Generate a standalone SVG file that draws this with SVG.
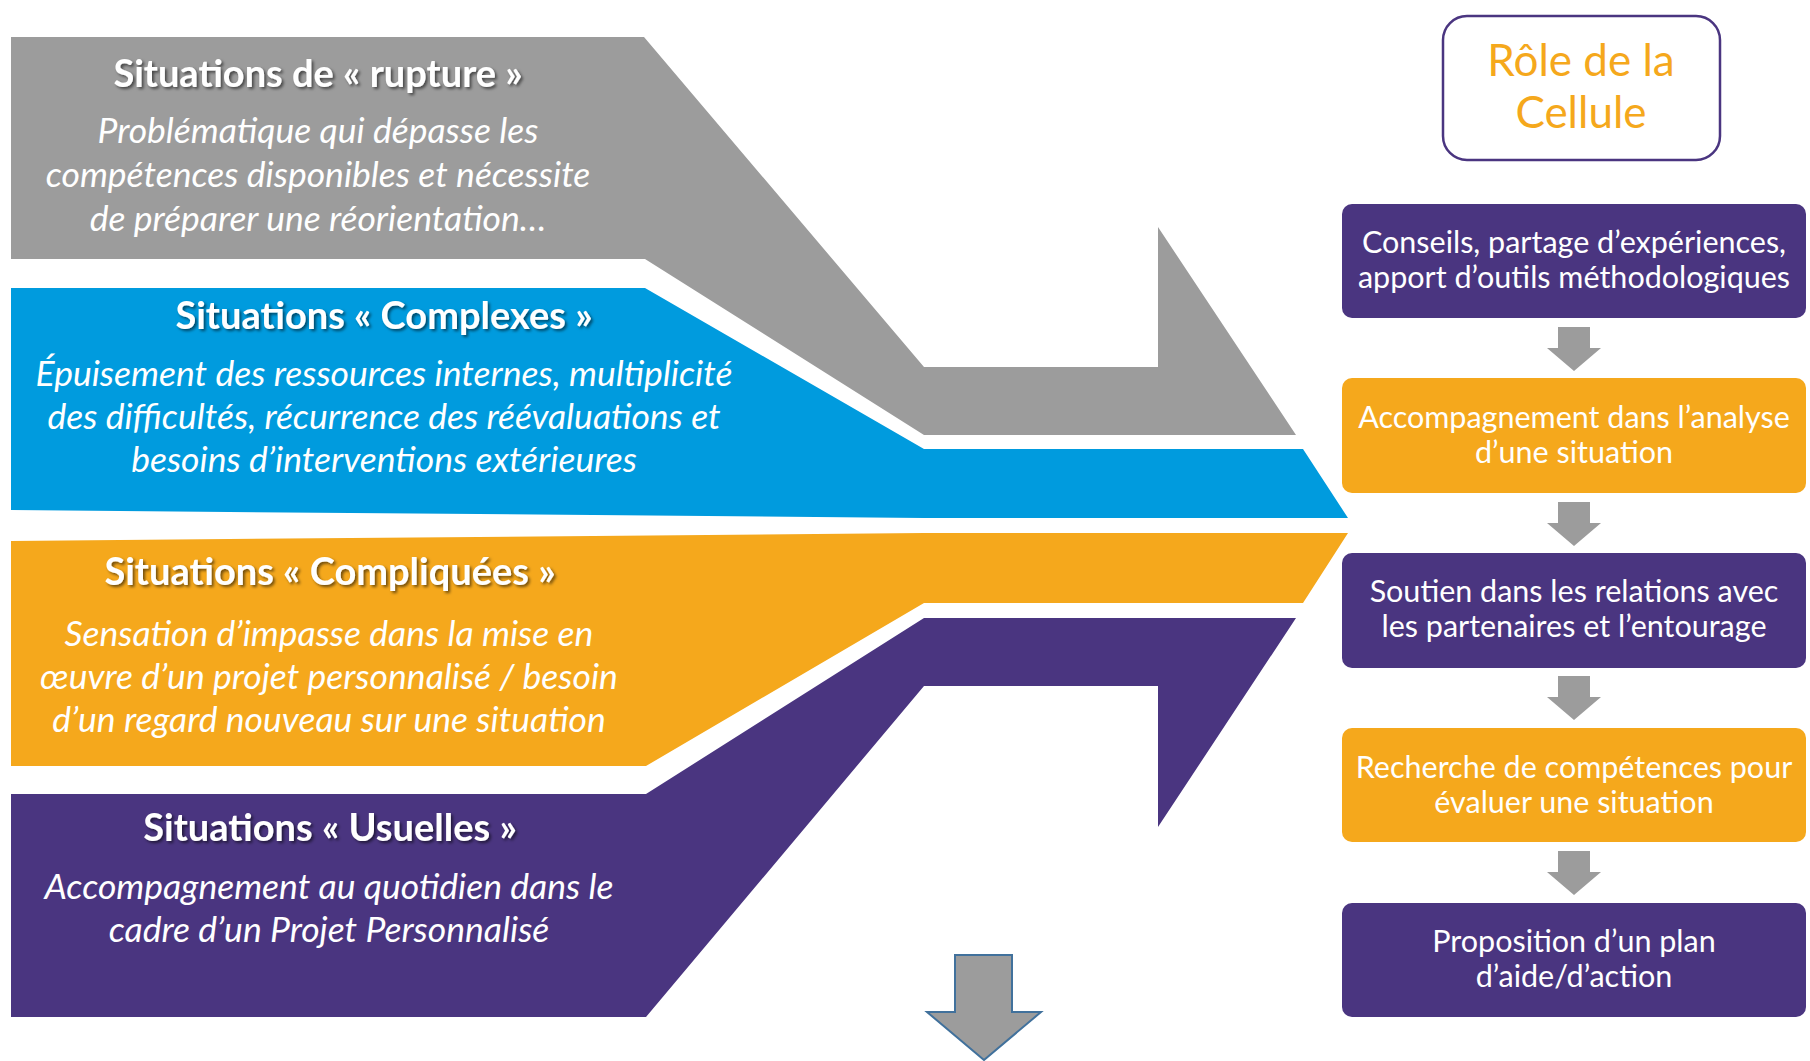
<svg xmlns="http://www.w3.org/2000/svg" width="1810" height="1061" viewBox="0 0 1810 1061">
<style>
.t{font-family:Lato,"Open Sans",sans-serif;font-weight:bold;font-size:38px;fill:#fff;text-anchor:middle;filter:url(#sh)}
.s{font-family:Lato,"Open Sans",sans-serif;font-style:italic;font-size:35.5px;fill:#fff;text-anchor:middle}
.b{font-family:Lato,"Open Sans",sans-serif;font-size:30.5px;fill:#fff;text-anchor:middle}
.h{font-family:Lato,"Open Sans",sans-serif;font-size:44px;fill:#f5a81c;text-anchor:middle}
.pu{fill:#4a3580}
.or{fill:#f5a81c}
</style>
<defs>
<filter id="sh" x="-10%" y="-30%" width="120%" height="160%">
<feDropShadow dx="2" dy="2" stdDeviation="1.5" flood-color="#000" flood-opacity="0.55"/>
</filter>
<path id="arr" d="M-16,0 H16 V21 H27 L0,44 L-27,21 H-16 Z" fill="#9c9c9c"/>
</defs>
<rect width="1810" height="1061" fill="#fff"/>

<g id="rupture">
<polygon points="11,37 644,37 924,367 1158,367 1158,227 1296,435 924,435 645,259 11,259" fill="#9c9c9c"/>
<text class="t" x="318" y="87">Situations de « rupture »</text>
<text class="s" x="318" y="143">Problématique qui dépasse les</text>
<text class="s" x="318" y="187">compétences disponibles et nécessite</text>
<text class="s" x="318" y="231">de préparer une réorientation…</text>
</g>

<g id="complexes">
<polygon points="11,288 645,288 924,449 1303,449 1348,518 924,518 11,510" fill="#009bde"/>
<text class="t" x="384" y="329">Situations « Complexes »</text>
<text class="s" x="384" y="386">Épuisement des ressources internes, multiplicité</text>
<text class="s" x="384" y="429">des difficultés, récurrence des réévaluations et</text>
<text class="s" x="384" y="472">besoins d’interventions extérieures</text>
</g>

<g id="compliquees">
<polygon points="11,541 924,533 1348,533 1303,603 924,603 646,766 11,766" fill="#f5a81c"/>
<text class="t" x="330" y="585">Situations « Compliquées »</text>
<text class="s" x="329" y="646">Sensation d’impasse dans la mise en</text>
<text class="s" x="329" y="689">œuvre d’un projet personnalisé / besoin</text>
<text class="s" x="329" y="732">d’un regard nouveau sur une situation</text>
</g>

<g id="usuelles">
<polygon points="11,794 646,794 924,618 1296,618 1158,827 1158,686 924,686 646,1017 11,1017" fill="#4a3580"/>
<text class="t" x="330" y="841">Situations « Usuelles »</text>
<text class="s" x="329" y="899">Accompagnement au quotidien dans le</text>
<text class="s" x="329" y="942">cadre d’un Projet Personnalisé</text>
</g>

<g id="down-arrow">
<polygon points="955,955 1012,955 1012,1012 1041,1012 984,1060 927,1012 955,1012" fill="#9c9c9c" stroke="#41719c" stroke-width="2"/>
</g>

<g id="role">
<rect x="1443" y="16" width="277" height="144" rx="24" fill="#fff" stroke="#4a3580" stroke-width="2.5"/>
<text class="h" x="1581" y="76">Rôle de la</text>
<text class="h" x="1581" y="128">Cellule</text>
</g>

<g id="box1">
<rect class="pu" x="1342" y="204" width="464" height="114" rx="10"/>
<text class="b" x="1574" y="253">Conseils, partage d’expériences,</text>
<text class="b" x="1574" y="288">apport d’outils méthodologiques</text>
</g>
<g id="box2">
<rect class="or" x="1342" y="378" width="464" height="115" rx="10"/>
<text class="b" x="1574" y="428">Accompagnement dans l’analyse</text>
<text class="b" x="1574" y="463">d’une situation</text>
</g>
<g id="box3">
<rect class="pu" x="1342" y="553" width="464" height="115" rx="10"/>
<text class="b" x="1574" y="602">Soutien dans les relations avec</text>
<text class="b" x="1574" y="637">les partenaires et l’entourage</text>
</g>
<g id="box4">
<rect class="or" x="1342" y="728" width="464" height="114" rx="10"/>
<text class="b" x="1574" y="778">Recherche de compétences pour</text>
<text class="b" x="1574" y="813">évaluer une situation</text>
</g>
<g id="box5">
<rect class="pu" x="1342" y="903" width="464" height="114" rx="10"/>
<text class="b" x="1574" y="952">Proposition d’un plan</text>
<text class="b" x="1574" y="987">d’aide/d’action</text>
</g>

<g id="connectors">
<use href="#arr" x="1574" y="327"/>
<use href="#arr" x="1574" y="502"/>
<use href="#arr" x="1574" y="676"/>
<use href="#arr" x="1574" y="851"/>
</g>
</svg>
